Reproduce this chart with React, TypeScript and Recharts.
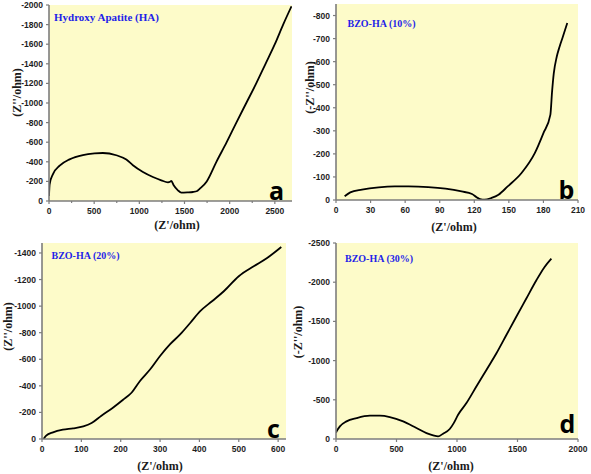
import React from "react";
import { LineChart, Line, XAxis, YAxis, CartesianGrid } from "recharts";

// ---- Panel a: Hydroxy Apatite (HA)
const haZre = [0, 7, 44, 118, 228, 375, 504, 596, 745, 856, 929, 1040, 1150, 1243, 1317, 1340, 1354, 1380, 1427, 1465, 1530, 1594, 1641, 1665, 1746, 1853, 1967, 2074, 2184, 2294, 2397, 2500, 2592, 2684];
const haZim = [51, 171, 274, 360, 425, 469, 486, 490, 467, 423, 365, 296, 245, 211, 191, 196, 204, 160, 109, 86, 88, 92, 102, 122, 200, 400, 600, 800, 1000, 1200, 1400, 1600, 1800, 1986];
const haXTicks = [0, 250, 500, 750, 1000, 1250, 1500, 1750, 2000, 2250, 2500];
const haYTicks = [0, 200, 400, 600, 800, 1000, 1200, 1400, 1600, 1800, 2000];

// ---- Panel b: BZO-HA (10%)
const b10Zre = [7.5, 12.4, 22.5, 37, 51, 63, 80, 95, 109, 118, 122, 125, 129, 135, 141, 149, 161, 172.5, 180, 186, 187.5, 189, 191.5, 194, 197, 200.7];
const b10Zim = [16, 33, 45, 55, 59, 59, 56, 49, 37, 26, 12, 4, 1, 9, 23, 59, 117, 203, 290, 369, 470, 550, 620, 665, 710, 768];
const b10XTicks = [0, 30, 60, 90, 120, 150, 180, 210];
const b10YTicks = [0, 100, 200, 300, 400, 500, 600, 700, 800];

// ---- Panel c: BZO-HA (20%)
const b20Zre = [4, 10.6, 28, 53, 79, 105, 126, 151, 181, 206, 228, 249, 275, 300, 325, 351, 377, 402, 432, 462, 500, 538, 572, 608];
const b20Zim = [0, 25, 50, 70, 80, 95, 120, 175, 237, 295, 350, 437, 525, 625, 712, 787, 875, 962, 1037, 1112, 1225, 1300, 1362, 1445];
const b20XTicks = [0, 100, 200, 300, 400, 500, 600];
const b20YTicks = [0, 200, 400, 600, 800, 1000, 1200, 1400];

// ---- Panel d: BZO-HA (30%)
const b30Zre = [0, 5, 32, 87, 170, 280, 363, 445, 555, 665, 748, 803, 844, 885, 940, 973, 1009, 1078, 1160, 1243, 1326, 1408, 1490, 1573, 1656, 1724, 1780];
const b30Zim = [80, 97, 161, 225, 267, 297, 297, 280, 225, 140, 76, 47, 34, 68, 127, 203, 309, 458, 669, 881, 1093, 1326, 1559, 1792, 2025, 2195, 2301];
const b30XTicks = [0, 500, 1000, 1500, 2000];
const b30YTicks = [0, 500, 1000, 1500, 2000, 2500];

const toRows = (xs: number[], ys: number[]) => xs.map((x, i) => ({ x, y: ys[i] }));

const BG = "#FDFBC9";
const FRAME = "#7d7d7d";
const TICK_FONT = "'Liberation Sans', Arial, sans-serif";
const SERIF = "'Liberation Serif', 'Times New Roman', serif";
const tickStyle = { fontFamily: TICK_FONT, fontWeight: 700, fontSize: 8.5, fill: "#1e1e1e" };
const negFmt = (v: number) => (v === 0 ? "0" : `-${v}`);

const XTick = (props: any) => {
  const { x, y, payload, majorStep } = props;
  const v = payload.value;
  const major = Math.abs(v / majorStep - Math.round(v / majorStep)) < 1e-6;
  return (
    <g>
      <line x1={x} x2={x} y1={y} y2={y + (major ? 3 : 2)} stroke={FRAME} strokeWidth={1.2} />
      {major && (
        <text x={x} y={y + 7} dy="0.71em" textAnchor="middle" {...tickStyle}>
          {v}
        </text>
      )}
    </g>
  );
};

type PanelProps = {
  left: number;
  top: number;
  width: number;
  height: number;
  margin: { top: number; right: number; bottom: number; left: number };
  yWidth: number;
  xHeight: number;
  xs: number[];
  ys: number[];
  xDomain: [number, number];
  xTicks: number[];
  majorStep: number;
  yDomain: [number, number];
  yTicks: number[];
};

function Panel(p: PanelProps) {
  const data = toRows(p.xs, p.ys);
  const frameLine = { stroke: FRAME, strokeWidth: 1.6 };
  return (
    <div style={{ position: "absolute", left: p.left, top: p.top }}>
      <LineChart width={p.width} height={p.height} data={data} margin={p.margin}>
        <CartesianGrid horizontal={false} vertical={false} fill={BG} fillOpacity={1} stroke="none" />
        <XAxis
          dataKey="x"
          type="number"
          domain={p.xDomain}
          ticks={p.xTicks}
          interval={0}
          height={p.xHeight}
          tickSize={0}
          tickMargin={0}
          tickLine={false}
          axisLine={frameLine}
          tick={<XTick majorStep={p.majorStep} />}
          allowDataOverflow
        />
        <XAxis
          xAxisId="top"
          orientation="top"
          type="number"
          domain={p.xDomain}
          height={0}
          tick={false}
          tickLine={false}
          axisLine={frameLine}
          allowDataOverflow
        />
        <YAxis
          type="number"
          domain={p.yDomain}
          ticks={p.yTicks}
          interval={0}
          width={p.yWidth}
          tickSize={3}
          tickMargin={3}
          tickLine={{ stroke: FRAME, strokeWidth: 1.2 }}
          axisLine={frameLine}
          tick={tickStyle}
          tickFormatter={negFmt}
          allowDataOverflow
        />
        <YAxis
          yAxisId="right"
          orientation="right"
          type="number"
          domain={p.yDomain}
          width={0}
          tick={false}
          tickLine={false}
          axisLine={frameLine}
          allowDataOverflow
        />
        <Line
          dataKey="y"
          type="monotone"
          stroke="#000"
          strokeWidth={1.8}
          dot={false}
          activeDot={false}
          isAnimationActive={false}
        />
      </LineChart>
    </div>
  );
}

const axisLabelStyle = { fontFamily: SERIF, fontWeight: 700, fontSize: 12, fill: "#1a1a1a" };
const titleStyle = { fontFamily: SERIF, fontWeight: 700, fill: "#1f1fe8" };
const letterStyle = { fontFamily: "'Open Sans', 'DejaVu Sans', sans-serif", fontWeight: 700, fontSize: 25, fill: "#000" };

export default function App() {
  return (
    <div style={{ position: "absolute", left: 0, top: 0, width: 591, height: 474, background: "#fff", overflow: "hidden" }}>
      <Panel
        left={0} top={0} width={300} height={236}
        margin={{ top: 5, right: 8, bottom: 0, left: 0 }}
        yWidth={49} xHeight={35}
        xs={haZre} ys={haZim}
        xDomain={[0, 2690]} xTicks={haXTicks} majorStep={500}
        yDomain={[0, 2000]} yTicks={haYTicks}
      />
      <Panel
        left={295} top={0} width={296} height={236}
        margin={{ top: 4, right: 13, bottom: 0, left: 0 }}
        yWidth={41} xHeight={36}
        xs={b10Zre} ys={b10Zim}
        xDomain={[0, 210]} xTicks={b10XTicks} majorStep={30}
        yDomain={[0, 850]} yTicks={b10YTicks}
      />
      <Panel
        left={0} top={236} width={300} height={238}
        margin={{ top: 7, right: 14, bottom: 0, left: 0 }}
        yWidth={42} xHeight={35}
        xs={b20Zre} ys={b20Zim}
        xDomain={[0, 620]} xTicks={b20XTicks} majorStep={100}
        yDomain={[0, 1475]} yTicks={b20YTicks}
      />
      <Panel
        left={295} top={236} width={296} height={238}
        margin={{ top: 7, right: 13, bottom: 0, left: 0 }}
        yWidth={41} xHeight={35}
        xs={b30Zre} ys={b30Zim}
        xDomain={[0, 2000]} xTicks={b30XTicks} majorStep={500}
        yDomain={[0, 2500]} yTicks={b30YTicks}
      />
      <svg width={591} height={474} style={{ position: "absolute", left: 0, top: 0, pointerEvents: "none" }}>
        {/* axis titles */}
        <text x={177} y={225} textAnchor="middle" dominantBaseline="central" {...axisLabelStyle}>(Z'/ohm)</text>
        <text x={454} y={227} textAnchor="middle" dominantBaseline="central" {...axisLabelStyle}>(Z'/ohm)</text>
        <text x={160} y={466} textAnchor="middle" dominantBaseline="central" {...axisLabelStyle}>(Z'/ohm)</text>
        <text x={451} y={466} textAnchor="middle" dominantBaseline="central" {...axisLabelStyle}>(Z'/ohm)</text>
        <text transform="translate(16.5,92.5) rotate(-90)" textAnchor="middle" dominantBaseline="central" {...axisLabelStyle}>(Z''/ohm)</text>
        <text transform="translate(310,87.5) rotate(-90)" textAnchor="middle" dominantBaseline="central" {...axisLabelStyle}>(-Z''/ohm)</text>
        <text transform="translate(7.5,326.5) rotate(-90)" textAnchor="middle" dominantBaseline="central" {...axisLabelStyle}>(Z''/ohm)</text>
        <text transform="translate(297.5,332) rotate(-90)" textAnchor="middle" dominantBaseline="central" {...axisLabelStyle}>(-Z''/ohm)</text>
        {/* sample titles */}
        <text x={54} y={21} fontSize={11} {...titleStyle}>Hydroxy Apatite (HA)</text>
        <text x={347.5} y={27} fontSize={10} {...titleStyle}>BZO-HA (10%)</text>
        <text x={51.5} y={258.5} fontSize={10} {...titleStyle}>BZO-HA (20%)</text>
        <text x={345} y={262} fontSize={10} {...titleStyle}>BZO-HA (30%)</text>
        {/* panel letters */}
        <text x={276.5} y={199.5} textAnchor="middle" {...letterStyle}>a</text>
        <text x={566.5} y={199} textAnchor="middle" {...letterStyle}>b</text>
        <text x={273.5} y={437.5} textAnchor="middle" {...letterStyle}>c</text>
        <text x={567.5} y={432.5} textAnchor="middle" {...letterStyle}>d</text>
      </svg>
    </div>
  );
}
